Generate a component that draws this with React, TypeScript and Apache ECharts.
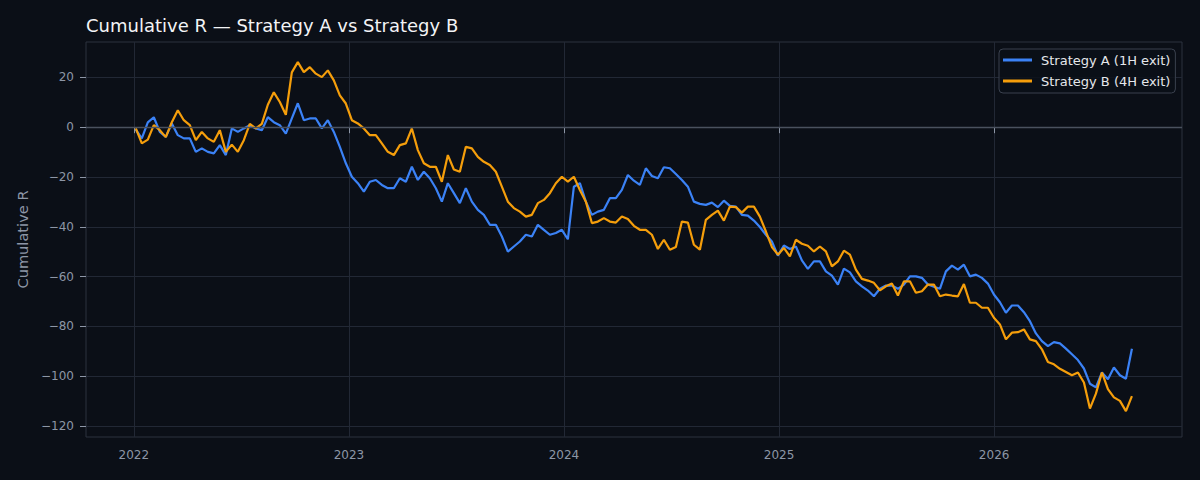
import { useEffect, useRef } from "react";
import * as echarts from "echarts";

// samples are evenly spaced (~10 days apart) from early Jan 2022, x in decimal years
const SAMPLE_START_YEAR = 2022.0093;
const SAMPLE_STEP_YEARS = 0.0279;

const STRATEGY_A = [
  -1, -4.5, 1.9, 4, -1.9, -3.9, 1.5, -3.2, -4.5, -4.5,
  -9.9, -8.5, -9.9, -10.5, -7.2, -11.2, -0.5, -1.9, -0.5, 0.8,
  -0.5, -1.2, 4, 2, 0.8, -2.6, 3.5, 9.6, 2.8, 3.5,
  3.5, -0.5, 2.8, -1.9, -7.9, -14.5, -19.9, -22.5, -25.9, -21.9,
  -21.2, -23.2, -24.5, -24.5, -20.5, -21.9, -15.9, -21.2, -17.9, -20.5,
  -24.5, -29.9, -22.5, -26.5, -30.5, -24.5, -29.9, -33.2, -35.2, -39.2,
  -39.2, -43.9, -50, -47.9, -45.9, -43.2, -43.9, -39.2, -41.2, -43.2,
  -42.5, -41.2, -45, -23.9, -22.5, -29.9, -35.2, -33.9, -33.2, -28.5,
  -28.5, -25.2, -19.2, -21.5, -23.2, -16.5, -19.6, -20.5, -16.1, -16.5,
  -18.8, -21.2, -23.9, -29.9, -30.8, -31.2, -30.3, -32.1, -29.5, -31.6,
  -31.9, -35.2, -35.5, -37.5, -40.1, -43.2, -45.9, -51.6, -47.5, -48.9,
  -47.9, -53.5, -56.9, -53.9, -53.9, -57.9, -59.6, -63.2, -56.8, -58.3,
  -61.9, -63.9, -65.6, -67.9, -64.9, -63.6, -63.6, -64.9, -63.2, -59.9,
  -59.9, -60.5, -63.2, -64.1, -64.9, -57.9, -55.6, -57.2, -55.2, -59.9,
  -59.2, -60.5, -62.8, -67.2, -70.3, -74.5, -71.6, -71.6, -74.3, -77.9,
  -82.8, -85.9, -87.9, -86.3, -86.8, -88.9, -91.2, -93.5, -96.9, -103,
  -104.5, -98.5, -101.2, -96.5, -99.6, -101, -89,
];

const STRATEGY_B = [
  -0.5, -6.5, -5, 0.8, -1.2, -4, 2, 6.8, 2.8, 0.8,
  -5.2, -1.9, -4.5, -5.9, -1.2, -9.9, -7, -9.9, -5.2, 1.3,
  -0.5, 1.3, 9, 14, 10.1, 5, 22, 26.1, 22.1, 24.1,
  21.5, 20.1, 22.8, 18.8, 12.8, 9.5, 2.8, 1.5, -0.5, -3.2,
  -3.2, -6.5, -9.9, -11.2, -7.2, -6.5, -0.5, -9.2, -14.5, -15.9,
  -15.9, -21.9, -11.2, -17, -17.9, -7.9, -8.5, -11.9, -13.9, -15.2,
  -17.9, -23.9, -29.9, -32.5, -33.9, -35.9, -35.2, -30.5, -29.2, -26.5,
  -22.5, -19.9, -21.9, -19.9, -25.2, -29.9, -38.5, -37.9, -36.5, -37.9,
  -38.3, -35.9, -36.9, -39.6, -41.2, -41.2, -43.2, -48.9, -45.2, -49.2,
  -48.1, -37.9, -38.3, -47.2, -49.2, -37.2, -35.2, -33.5, -37.5, -31.9,
  -32.1, -34.3, -31.9, -31.9, -35.9, -41.9, -48.1, -51.2, -48.5, -51.9,
  -45.2, -46.8, -47.6, -49.9, -47.9, -49.9, -55.9, -53.9, -49.6, -51.2,
  -57.2, -60.9, -61.6, -62.5, -65.5, -63.9, -62.8, -67.6, -61.9, -61.9,
  -66.5, -65.9, -63.2, -63.2, -67.9, -67.2, -67.6, -67.9, -63, -70.5,
  -70.5, -72.5, -72.5, -76.5, -79.2, -85.2, -82.5, -82.3, -81.2, -85.2,
  -85.9, -89.2, -94.3, -95.2, -97, -98.3, -99.6, -98.5, -102.5, -113,
  -107, -98.5, -105.2, -108.5, -109.9, -114, -108,
];

const SERIES_NAMES = ["Strategy A (1H exit)", "Strategy B (4H exit)"];
const YEAR_TICKS = [2022, 2023, 2024, 2025, 2026];
const Y_TICKS = [-120, -100, -80, -60, -40, -20, 0, 20];

const FONT = "DejaVu Sans";
const BG = "#0b0f17";
const MUTED = "#8d96a6";

const toPoints = (vals: number[]) =>
  vals.map((v, i) => [SAMPLE_START_YEAR + i * SAMPLE_STEP_YEARS, v]);

export default function App() {
  const ref = useRef<HTMLDivElement | null>(null);

  useEffect(() => {
    if (!ref.current) return;
    const chart = echarts.init(ref.current, undefined, { renderer: "svg" });

    chart.setOption({
      animation: false,
      backgroundColor: BG,
      textStyle: { fontFamily: FONT },
      title: {
        text: "Cumulative R — Strategy A vs Strategy B",
        left: 86,
        top: 16,
        padding: 0,
        textStyle: { color: "#f3f4f6", fontSize: 18, fontWeight: "normal", fontFamily: FONT },
      },
      legend: {
        data: SERIES_NAMES,
        orient: "vertical",
        left: 999,
        top: 49,
        padding: [4, 5, 5, 4],
        itemGap: 7,
        itemWidth: 29,
        itemHeight: 3,
        icon: "rect",
        backgroundColor: "rgba(11,15,23,0.85)",
        borderColor: "#3a414e",
        borderWidth: 1,
        borderRadius: 4,
        textStyle: { color: "#e5e7eb", fontSize: 13, lineHeight: 14, fontFamily: FONT, padding: [0, 0, 0, 4] },
      },
      grid: {
        left: 86,
        right: 18,
        top: 42,
        bottom: 43,
        show: true,
        borderColor: "#2c323e",
        borderWidth: 1,
      },
      xAxis: {
        type: "value",
        min: 2021.7777,
        max: 2026.8735,
        minInterval: 1,
        maxInterval: 1,
        axisLine: { show: false },
        axisTick: { show: true, length: 6, lineStyle: { color: MUTED }, customValues: YEAR_TICKS },
        axisLabel: {
          color: MUTED,
          fontSize: 12,
          fontFamily: FONT,
          margin: 12,
          customValues: YEAR_TICKS,
          formatter: (v: number) => (Number.isInteger(v) ? String(v) : ""),
        },
        splitLine: { show: true, lineStyle: { color: "#222835", width: 1 } },
      },
      yAxis: {
        type: "value",
        min: -124.4,
        max: 34.2,
        minInterval: 20,
        maxInterval: 20,
        name: "Cumulative R",
        nameLocation: "middle",
        nameGap: 53,
        nameTextStyle: { color: MUTED, fontSize: 14.6, fontFamily: FONT },
        axisLine: { show: false },
        axisTick: { show: true, length: 6, lineStyle: { color: MUTED }, customValues: Y_TICKS },
        axisLabel: {
          color: MUTED,
          fontSize: 12,
          fontFamily: FONT,
          margin: 12,
          customValues: Y_TICKS,
          formatter: (v: number) =>
            v % 20 !== 0 ? "" : v < 0 ? "\u2212" + Math.abs(v) : String(v),
        },
        splitLine: { show: true, lineStyle: { color: "#222835", width: 1 } },
      },
      series: [
        {
          name: "zero",
          type: "line",
          data: [],
          silent: true,
          z: 1,
          markLine: {
            silent: true,
            symbol: "none",
            label: { show: false },
            lineStyle: { color: "#4a515e", width: 1.3, type: "solid" },
            data: [{ yAxis: 0 }],
          },
        },
        {
          name: SERIES_NAMES[0],
          type: "line",
          data: toPoints(STRATEGY_A),
          showSymbol: false,
          z: 3,
          color: "#3b82f6",
          lineStyle: { width: 2.2, color: "#3b82f6" },
        },
        {
          name: SERIES_NAMES[1],
          type: "line",
          data: toPoints(STRATEGY_B),
          showSymbol: false,
          z: 4,
          color: "#f59e0b",
          lineStyle: { width: 2.2, color: "#f59e0b" },
        },
      ],
    });

    return () => chart.dispose();
  }, []);

  return (
    <div
      ref={ref}
      style={{ position: "fixed", left: 0, top: 0, width: 1200, height: 480, background: BG }}
    />
  );
}
